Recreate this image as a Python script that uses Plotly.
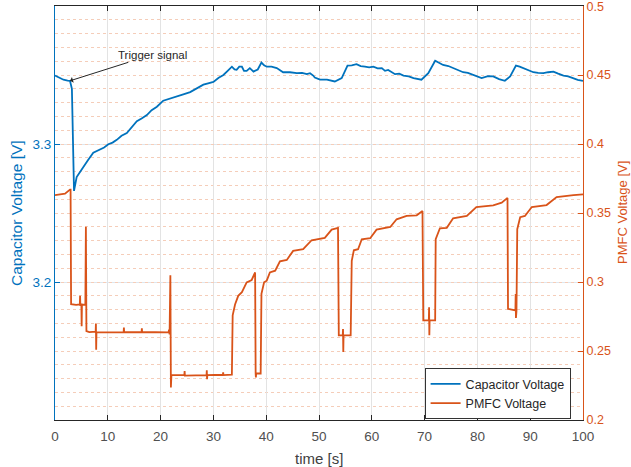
import plotly.graph_objects as go

# capacitor voltage (left axis)
t_cap = [0, 0.8, 1.6, 2.4, 2.84, 3.2, 3.6, 4.1, 4.6, 5.4, 6.2, 7.25, 8.5, 9.3, 10.1, 10.9, 11.7, 12.6,
         13.6, 14.5, 15.5, 16.4, 17.4, 18.3, 19.3, 20.5, 21.7, 23.0, 24.3, 25.6, 26.8, 28.1, 29.0, 30.0,
         31.0, 31.9, 32.7, 33.5, 34.0, 34.4, 34.9, 35.4, 35.8, 36.3, 36.9, 37.6, 38.4, 39.1, 39.6, 40.1,
         41.0, 42.0, 43.2, 44.5, 45.8, 46.8, 47.7, 48.3, 48.9, 49.2, 50.2, 51.5, 53.0, 54.3, 55.4, 56.2,
         57.1, 57.9, 58.7, 59.5, 60.3, 61.1, 61.9, 62.5, 63.1, 64.4, 65.2, 66.0, 67.0, 67.9, 69.4, 70.7,
         72.0, 72.8, 73.5, 74.5, 75.4, 76.3, 77.3, 78.2, 79.2, 80.0, 80.8, 82.0, 83.0, 84.1, 85.2, 86.2,
         87.3, 88.0, 88.7, 89.6, 90.6, 91.5, 92.5, 93.4, 94.4, 95.3, 96.3, 97.2, 98.2, 99.0, 100]
v_cap = [3.3496, 3.3480, 3.3466, 3.3460, 3.3458, 3.3400, 3.2660, 3.2760, 3.2790, 3.2830, 3.2880, 3.2937,
         3.2960, 3.2975, 3.2998, 3.3010, 3.3030, 3.3060, 3.3080, 3.3120, 3.3165, 3.3185, 3.3210, 3.3245,
         3.3270, 3.3314, 3.3330, 3.3345, 3.3360, 3.3376, 3.3400, 3.3430, 3.3440, 3.3450, 3.3480, 3.3500,
         3.3530, 3.3560, 3.3540, 3.3538, 3.3560, 3.3560, 3.3530, 3.3530, 3.3550, 3.3525, 3.3540, 3.3590,
         3.3570, 3.3560, 3.3560, 3.3550, 3.3520, 3.3520, 3.3513, 3.3515, 3.3506, 3.3513, 3.3496, 3.3482,
         3.3466, 3.3466, 3.3453, 3.3477, 3.3568, 3.3570, 3.3578, 3.3565, 3.3560, 3.3555, 3.3560, 3.3548,
         3.3550, 3.3530, 3.3537, 3.3506, 3.3510, 3.3496, 3.3490, 3.3477, 3.3466, 3.3513, 3.3603, 3.3585,
         3.3573, 3.3565, 3.3550, 3.3540, 3.3520, 3.3515, 3.3501, 3.3490, 3.3477, 3.3492, 3.3490, 3.3470,
         3.3458, 3.3490, 3.3568, 3.3560, 3.3550, 3.3535, 3.3520, 3.3515, 3.3513, 3.3520, 3.3525, 3.3510,
         3.3496, 3.3490, 3.3477, 3.3465, 3.3458]

# PMFC voltage (right axis)
t_pmfc = [0, 1.0, 1.9, 2.84, 2.95, 3.05, 4.0, 4.7, 4.75, 4.8, 5.0, 5.05, 5.1, 5.75, 5.85, 5.95, 6.5,
          7.7, 7.75, 7.8, 7.85, 9.0, 11.0, 13.0, 13.05, 13.1, 16.4, 16.45, 16.5, 19.0, 21.5, 21.6, 21.7,
          21.85, 21.95, 22.05, 24.5, 24.55, 24.6, 28.7, 28.75, 28.8, 28.85, 31.8, 31.85, 31.9, 33.5,
          33.65, 34.1, 34.7, 35.4, 36.3, 37.25, 37.9, 38.0, 38.05, 38.1, 38.95, 39.1, 39.6, 40.1, 40.7,
          41.7, 42.6, 43.9, 45.1, 47.0, 48.6, 50.5, 51.1, 52.4, 53.6, 53.75, 54.5, 54.55, 54.6, 54.65,
          56.0, 56.2, 56.6, 57.4, 58.1, 59.7, 60.9, 63.5, 64.7, 66.6, 68.5, 69.6, 69.75, 70.8, 70.85,
          70.9, 70.95, 72.0, 72.1, 72.9, 74.2, 75.4, 78.0, 79.8, 83.0, 84.6, 85.7, 85.8, 87.2, 87.25,
          87.3, 87.4, 87.55, 88.1, 89.0, 90.3, 93.1, 95.0, 98.2, 100]
v_pmfc = [0.3630, 0.3635, 0.3640, 0.3670, 0.3670, 0.2840, 0.2835, 0.2838, 0.2900, 0.2835, 0.2837,
          0.2680, 0.2837, 0.2835, 0.3400, 0.2645, 0.2637, 0.2640, 0.2700, 0.2510, 0.2637, 0.2635,
          0.2638, 0.2636, 0.2670, 0.2636, 0.2638, 0.2665, 0.2636, 0.2637, 0.2635, 0.2655, 0.2620,
          0.3050, 0.2236, 0.2325, 0.2325, 0.2355, 0.2322, 0.2325, 0.2360, 0.2295, 0.2325, 0.2328,
          0.2345, 0.2325, 0.2328, 0.2758, 0.2837, 0.2900, 0.2926, 0.2998, 0.3015, 0.3070, 0.2337,
          0.2308, 0.2337, 0.2337, 0.2914, 0.2998, 0.3010, 0.3070, 0.3082, 0.3150, 0.3160, 0.3226,
          0.3238, 0.3303, 0.3318, 0.3320, 0.3380, 0.3393, 0.2614, 0.2614, 0.2660, 0.2493, 0.2614,
          0.2614, 0.3154, 0.3230, 0.3238, 0.3310, 0.3318, 0.3380, 0.3399, 0.3455, 0.3479, 0.3484,
          0.3515, 0.2722, 0.2722, 0.2818, 0.2614, 0.2722, 0.2722, 0.3310, 0.3390, 0.3393, 0.3462,
          0.3479, 0.3544, 0.3556, 0.3575, 0.3610, 0.2806, 0.2795, 0.2914, 0.2740, 0.2789, 0.3383,
          0.3470, 0.3479, 0.3544, 0.3558, 0.3616, 0.3630, 0.3635]

x_ticks = [0, 10, 20, 30, 40, 50, 60, 70, 80, 90, 100]
cap_ticks = [3.2, 3.3]
pmfc_ticks = [0.2, 0.25, 0.3, 0.35, 0.4, 0.45, 0.5]

blue = "#0072BD"
orange = "#D95319"
font = "Liberation Sans, Arial, sans-serif"

fig = go.Figure()
fig.add_trace(go.Scatter(x=t_cap, y=v_cap, mode="lines", name="Capacitor Voltage",
                         line=dict(color=blue, width=1.8), yaxis="y"))
fig.add_trace(go.Scatter(x=t_pmfc, y=v_pmfc, mode="lines", name="PMFC Voltage",
                         line=dict(color=orange, width=1.8), yaxis="y2"))

fig.update_layout(
    width=631, height=467,
    margin=dict(l=55, r=48, t=6, b=47),
    paper_bgcolor="white", plot_bgcolor="white",
    font=dict(family=font, size=13, color="#404040"),
    xaxis=dict(range=[0, 100], tickvals=x_ticks, ticks="inside", ticklen=5,
               tickcolor="#262626", showline=True, linecolor="#262626", linewidth=1,
               mirror="ticks", showgrid=True, gridcolor="#e3e3e3", zeroline=False,
               automargin=False, ticklabelstandoff=4,
               tickfont=dict(size=13.5, color="#505050")),
    yaxis=dict(range=[3.1, 3.4], tickvals=cap_ticks, ticks="inside", ticklen=5,
               tickcolor=blue, showline=True, linecolor=blue, linewidth=1,
               showgrid=True, gridcolor="#dde7ef", zeroline=False, automargin=False,
               tickfont=dict(size=13.5, color=blue)),
    yaxis2=dict(range=[0.2, 0.5001], tickvals=pmfc_ticks, overlaying="y", side="right",
                ticks="inside", ticklen=5, tickcolor=orange, showline=True, linecolor=orange,
                linewidth=1, showgrid=True, gridcolor="#f5cdb9", griddash="dot", zeroline=False,
                automargin=False, ticklabeloverflow="allow",
                minor=dict(dtick=0.01, showgrid=True, gridcolor="#f5cdb9", griddash="dot", ticks=""),
                tickfont=dict(size=12.5, color=orange)),
    legend=dict(x=0.70, y=0.125, xanchor="left", yanchor="top",
                bgcolor="white", bordercolor="#333333", borderwidth=1,
                font=dict(size=12.5, color="#262626"), tracegroupgap=0),
    showlegend=True,
)

# axis titles
fig.add_annotation(x=0.5, y=0, xref="paper", yref="paper", yshift=-38, text="time [s]",
                   xanchor="center", yanchor="middle",
                   showarrow=False, font=dict(size=15, color="#404040"))
fig.add_annotation(x=0, y=0.5, xref="paper", yref="paper", xshift=-39, textangle=-90,
                   xanchor="center", yanchor="middle",
                   text="Capacitor Voltage [V]", showarrow=False, font=dict(size=15.5, color=blue))
fig.add_annotation(x=1, y=0.5, xref="paper", yref="paper", xshift=39, textangle=-90,
                   xanchor="center", yanchor="middle",
                   text="PMFC Voltage [V]", showarrow=False, font=dict(size=13, color=orange))

fig.add_annotation(x=2.84, y=3.3458, xref="x", yref="y", text="Trigger signal",
                   showarrow=True, arrowhead=1, arrowsize=1, arrowwidth=1, arrowcolor="#262626",
                   ax=82, ay=-26, font=dict(size=11.5, color="#262626"))

# drop the browser's default body margin so the figure sits at the window corner
fig.write_html("out.html", config={"displayModeBar": False},
               post_script="document.body.style.margin='0';")
